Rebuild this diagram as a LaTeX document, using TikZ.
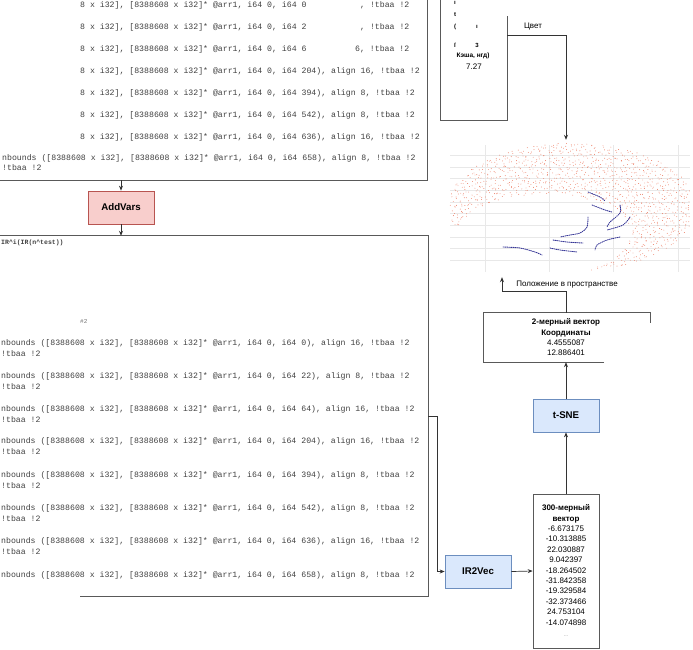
\documentclass[tikz,border=0pt]{standalone}
\usepackage{fontspec}
\setmainfont{Liberation Sans}
\setmonofont{Liberation Mono}
\usetikzlibrary{arrows.meta,calc}
\definecolor{pinkfill}{HTML}{F8CECC}
\definecolor{pinkline}{HTML}{B85450}
\definecolor{bluefill}{HTML}{DAE8FC}
\definecolor{blueline}{HTML}{6C8EBF}
\definecolor{dotred}{RGB}{236,125,100}
\definecolor{dotblue}{RGB}{55,55,150}
\definecolor{gridc}{RGB}{232,232,232}
\begin{document}
\begin{tikzpicture}[x=1pt,y=-1pt,
  codet/.style={font=\fontsize{8.2}{9}\selectfont\ttfamily, text=black!75, anchor=west, inner sep=0pt},
  box/.style={draw=black!65, line width=0.7pt, fill=white, inner sep=0pt},
  opbox/.style={draw, line width=0.7pt, minimum width=66pt, minimum height=33pt, font=\fontsize{9.7}{11}\selectfont\bfseries, inner sep=0pt},
  pinkop/.style={opbox, fill=pinkfill, draw=pinkline},
  blueop/.style={opbox, fill=bluefill, draw=blueline},
  arr/.style={draw=black!80, line width=0.7pt, -{Stealth[length=5pt,width=4pt]}},
  lbl/.style={font=\fontsize{8}{9.6}\selectfont, inner sep=0pt, align=center},
]
\useasboundingbox (0,0) rectangle (693,649);

% ---------- top IR box ----------
\node[box, minimum width=431pt, minimum height=184pt] (irA) at (212,88) {};
\foreach \yy/\tail in {71/{204), align 16, !tbaa !2},93/{394), align 8, !tbaa !2},115/{542), align 8, !tbaa !2},137/{636), align 16, !tbaa !2}}{
  \node[codet] at (80,\yy) {8 x i32], [8388608 x i32]* @arr1, i64 0, i64 \tail};
}
\node[codet] at (80,5) {8 x i32], [8388608 x i32]* @arr1, i64 0, i64 0};
\node[codet] at (80,27) {8 x i32], [8388608 x i32]* @arr1, i64 0, i64 2};
\node[codet] at (80,49) {8 x i32], [8388608 x i32]* @arr1, i64 0, i64 6};
\node[codet] at (360,5) {, !tbaa !2};
\node[codet] at (360,27) {, !tbaa !2};
\node[codet] at (355,49) {6, !tbaa !2};
\node[codet] at (2,158) {nbounds ([8388608 x i32], [8388608 x i32]* @arr1, i64 0, i64 658), align 8, !tbaa !2};
\node[codet] at (2,168) {!tbaa !2};

% ---------- AddVars ----------
\node[pinkop] (addv) at (121,207.5) {AddVars};

% ---------- second IR box ----------
\node[minimum width=431pt, minimum height=360pt, inner sep=0pt] (irB) at (212.5,416) {};
\draw[black!65, line width=0.7pt] (irB.north west) -- (irB.north east) -- (irB.south east) -- ([xshift=-348pt]irB.south east);
\node[codet, font=\fontsize{6.5}{7}\selectfont\ttfamily\bfseries] at (1,243) {IR\^{}i(IR(n\^{}test))};
\node[codet, font=\fontsize{6}{7}\selectfont\ttfamily, text=black!55] at (80,321) {\#2};
\foreach \yy/\tail in {343/{0), align 16},376/{22), align 8},409/{64), align 16},441/{204), align 16},475/{394), align 8},508/{542), align 8},541/{636), align 16},575/{658), align 8}}{
  \node[codet] at (1,\yy) {nbounds ([8388608 x i32], [8388608 x i32]* @arr1, i64 0, i64 \tail, !tbaa !2};
}
\foreach \yy in {354,387,420,452,486,519,552}{
  \node[codet] at (1,\yy) {!tbaa !2};
}

% ---------- right-hand pipeline ----------
\node[blueop] (irvec) at (478,571.5) {IR2Vec};
\node[box, minimum width=66pt, minimum height=154pt] (vec300) at (566,571) {};
\node[lbl, anchor=north, font=\fontsize{8}{10.4}\selectfont] at (566,504.5) {\textbf{300-мерный}\\\textbf{вектор}\\-6.673175\\-10.313885\\22.030887\\9.042397\\-18.264502\\-31.842358\\-19.329584\\-32.373466\\24.753104\\-14.074898};
\node[lbl, font=\fontsize{5}{6}\selectfont, text=black!50] at (566,636) {...};
\node[blueop] (tsne) at (566,415.5) {t-SNE};
\node[minimum width=166pt, minimum height=49pt, inner sep=0pt] (vec2) at (567,337.5) {};
\draw[black!65, line width=0.7pt] ([xshift=-46pt]vec2.south east) -- (vec2.south west) -- (vec2.north west) -- (vec2.north east) -- ([yshift=-10pt]vec2.north east);
\node[lbl, anchor=north, font=\fontsize{8}{10.4}\selectfont] at (566,318.5) {\textbf{2-мерный вектор}\\\textbf{Координаты}\\4.4555087\\12.886401};

% top-right colour box
\node[minimum width=66pt, minimum height=124pt, inner sep=0pt] (colr) at (474,58) {};
\draw[black!65, line width=0.7pt] (colr.north west) -- (colr.south west) -- (colr.south east) -- ([yshift=-20pt]colr.north east);
\node[lbl, font=\fontsize{6}{7}\selectfont\bfseries] at (455,3) {ı};
\node[lbl, font=\fontsize{6}{7}\selectfont\bfseries] at (455,15) {t};
\node[lbl, font=\fontsize{6}{7}\selectfont\bfseries] at (455,27) {(};
\node[lbl, font=\fontsize{6}{7}\selectfont\bfseries] at (477,27) {ı};
\node[lbl, font=\fontsize{6}{7}\selectfont\bfseries] at (455,45) {ſ};
\node[lbl, font=\fontsize{6}{7}\selectfont\bfseries] at (477,45) {3};
\node[lbl, font=\fontsize{6.5}{7}\selectfont\bfseries] at (473,56) {Кэша, нгд)};
\node[lbl] at (474,67) {7.27};

% ---------- scatter plot ----------
\node[minimum width=243pt, minimum height=138pt, inner sep=0pt] (plot) at (568.5,209) {};
\foreach \gx in {485,549,613,678}{ \draw[gridc, line width=0.5pt] (\gx,145) -- (\gx,272); }
\foreach \gy in {155,167,178,190,202,213,225,237,248,260}{ \draw[gridc, line width=0.5pt] (450,\gy) -- (690,\gy); }
\pgfmathsetseed{11}
\foreach \i in {1,...,2400}{
  \pgfmathsetmacro\px{450+240*mod(0.5+\i*0.7548776662,1)+1.5*rand}
  \pgfmathsetmacro\py{142+132*mod(0.5+\i*0.5698402910,1)+1.5*rand}
  \pgfmathtruncatemacro\ok{(((\px-572)/124)^2+((\py-207)/64)^2<1) && (((\px-545)/86)^2+((\py-234)/40)^2>1)}
  \ifnum\ok=1 \fill[dotred] (\px,\py) circle (0.45pt); \fi
}
\begin{scope}[dotblue, line width=0.9pt, dash pattern=on 0.9pt off 1.1pt, line cap=round]
  \draw plot[smooth] coordinates {(588,192) (600,197) (605,201)};
  \draw plot[smooth] coordinates {(592,205) (605,210) (612,212)};
  \draw plot[smooth] coordinates {(620,205) (620,213) (610,222) (607,227)};
  \draw plot[smooth] coordinates {(588,217) (587,227) (580,233) (570,235) (560,237)};
  \draw plot[smooth] coordinates {(630,217) (623,225) (607,230)};
  \draw plot[smooth] coordinates {(553,240) (567,242) (583,243)};
  \draw plot[smooth] coordinates {(620,237) (607,240) (597,245) (595,250)};
  \draw plot[smooth] coordinates {(503,247) (520,248) (535,252) (542,255)};
  \draw plot[smooth] coordinates {(550,248) (560,250) (577,252)};
\end{scope}

% ---------- connectors ----------
\draw[arr] (irA.south -| addv.north) -- (addv.north);
\draw[arr] (addv.south) -- (addv.south |- irB.north);
\draw[arr] (irB.east) -- ++(9,0) |- (irvec.west);
\draw[arr] (irvec.east) -- (vec300.west);
\draw[arr] (vec300.north -| tsne.south) -- (tsne.south);
\draw[arr] (tsne.north) -- (tsne.north |- vec2.south);
\draw[arr] (vec2.north -| tsne.north) -- ++(0,-21) -| ([xshift=-66.5pt,yshift=1pt]plot.south);
\node[lbl] (poslbl) at (567,285) {Положение в пространстве};
\draw[arr] ([yshift=23pt]colr.east) -- (566,35) -- ([xshift=-2.5pt]plot.north);
\node[lbl] (colrlbl) at (533,27) {Цвет};
\end{tikzpicture}
\end{document}
